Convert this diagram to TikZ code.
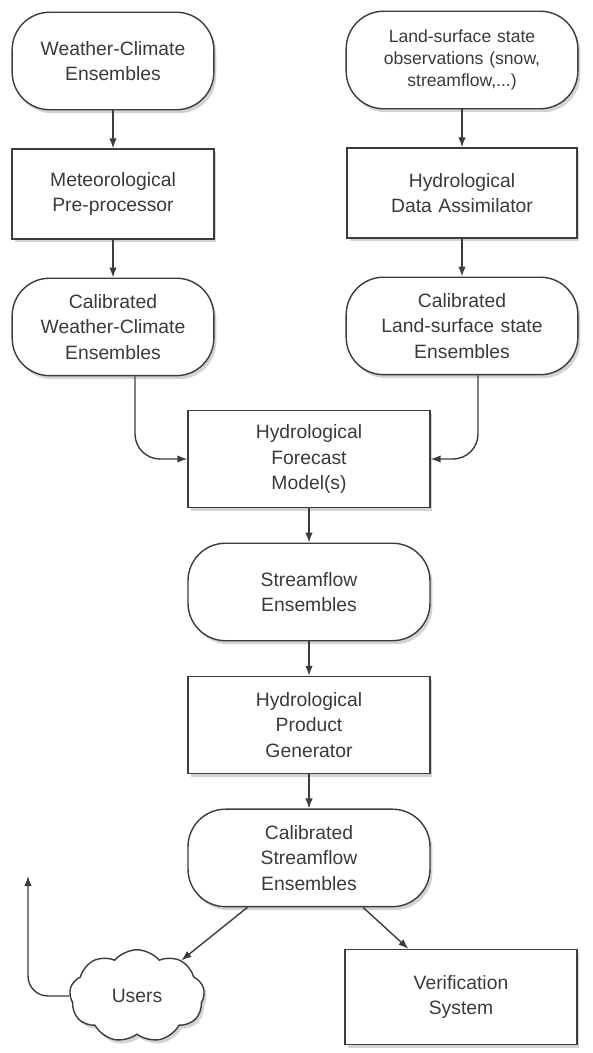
\documentclass[tikz,border=0pt]{standalone}
\usepackage{fontspec}
\setmainfont{Liberation Sans}
\usetikzlibrary{shapes.symbols,shadows,arrows.meta}

\definecolor{linegray}{HTML}{3C3C3C}
\definecolor{textgray}{HTML}{3A3A3A}

\tikzstyle{ensemble} = [rectangle, rounded corners=0.75cm, minimum width=4cm, minimum height=1.95cm, text width=3.8cm, align=center, draw=linegray, line width=0.8pt, fill=white, text=textgray, font=\fontsize{11}{14.5}\selectfont, drop shadow={shadow xshift=0.05cm, shadow yshift=-0.07cm, opacity=0.35}]
\tikzstyle{process} = [rectangle, minimum width=4cm, minimum height=1.8cm, text width=3.8cm, align=center, draw=linegray, line width=0.8pt, fill=white, text=textgray, font=\fontsize{11}{14.5}\selectfont, drop shadow={shadow xshift=0.05cm, shadow yshift=-0.07cm, opacity=0.35}]
\tikzstyle{flow} = [-{Latex[length=0.2cm,width=0.15cm]}, draw=linegray, line width=0.8pt]

\begin{document}
\begin{tikzpicture}[x=0.02cm, y=0.02cm, node distance=2.66cm]
\useasboundingbox (0,0) rectangle (592,-1053);

\node (wce) [ensemble] at (113,-61) {Weather-Climate\\Ensembles};

\node (land) [ensemble, minimum width=4.6cm, text width=4.4cm, font=\fontsize{10}{12.5}\selectfont] at (462,-60) {Land-surface state\\observations (snow,\\streamflow,...)};

\node (metpre) [process, below of=wce] {Meteorological\\Pre-processor};

\node (hda) [process, minimum width=4.6cm, below of=land] {Hydrological\\Data Assimilator};

\node (calwce) [ensemble, below of=metpre] {Calibrated\\Weather-Climate\\Ensembles};

\node (calland) [ensemble, minimum width=4.6cm, text width=4.4cm, below of=hda] {Calibrated\\Land-surface state\\Ensembles};

\node (hfm) [process, minimum width=4.84cm, minimum height=1.94cm] at (309,-459) {Hydrological\\Forecast\\Model(s)};

\node (sfe) [ensemble, minimum width=4.84cm, below of=hfm] {Streamflow\\Ensembles};

\node (hpg) [process, minimum width=4.84cm, minimum height=1.94cm, below of=sfe] {Hydrological\\Product\\Generator};

\node (calsfe) [ensemble, minimum width=4.84cm, below of=hpg] {Calibrated\\Streamflow\\Ensembles};

\node (users) [cloud, cloud puffs=9, cloud puff arc=100, aspect=1.4, minimum width=2.7cm, minimum height=1.85cm, draw=linegray, line width=0.8pt, fill=white, text=textgray, font=\fontsize{11}{14.5}\selectfont, drop shadow={shadow xshift=0.05cm, shadow yshift=-0.07cm, opacity=0.35}] at (137,-996) {Users};

\node (verif) [process, minimum width=4.64cm, minimum height=1.9cm] at (461,-997) {Verification\\System};

\coordinate (feedback) at (28,-876);

\draw [flow] (wce) -- (metpre);
\draw [flow] (metpre) -- (calwce);
\draw [flow] (land) -- (hda);
\draw [flow] (hda) -- (calland);
\draw [flow, rounded corners=0.5cm] ([xshift=0.44cm]calwce.south) |- (hfm.west);
\draw [flow, rounded corners=0.5cm] ([xshift=0.32cm]calland.south) |- (hfm.east);
\draw [flow] (hfm) -- (sfe);
\draw [flow] (sfe) -- (hpg);
\draw [flow] (hpg) -- (calsfe);
\draw [flow] (calsfe) -- (users);
\draw [flow] (calsfe) -- (verif);
\draw [flow, rounded corners=0.4cm] (users.west) -| (feedback);
\end{tikzpicture}
\end{document}
